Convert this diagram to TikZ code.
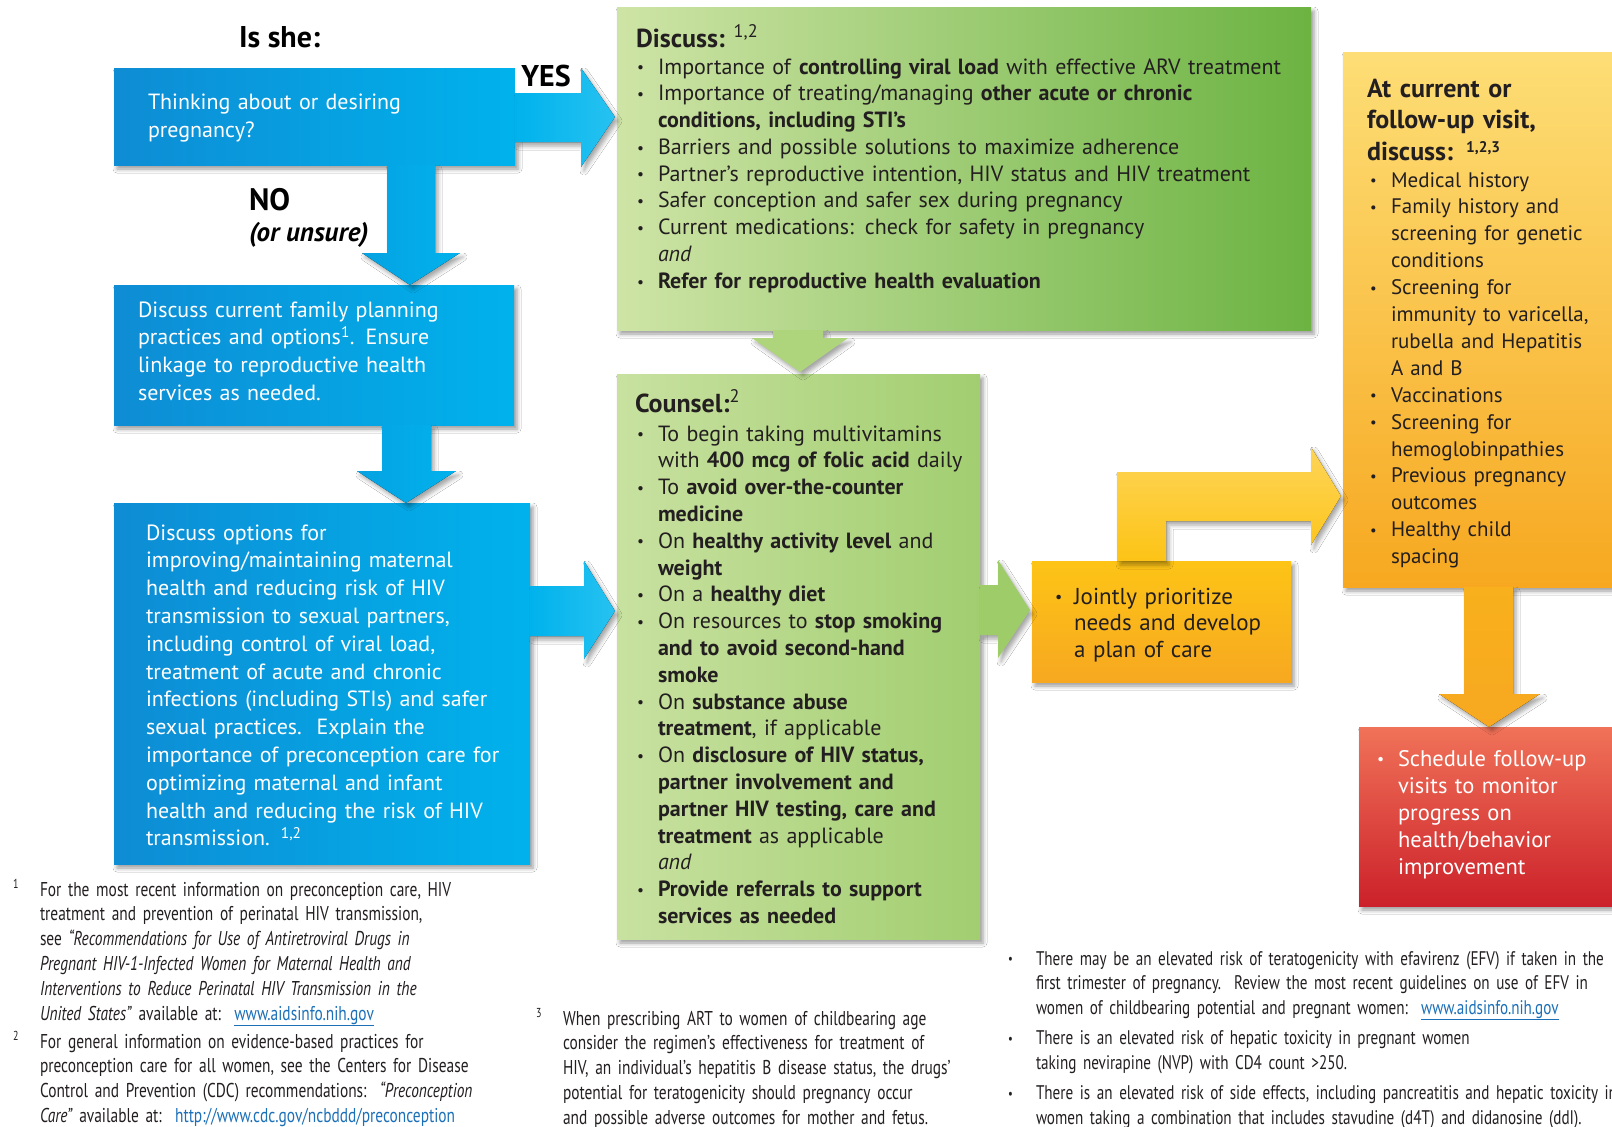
\documentclass[tikz,border=0pt]{standalone}
\usepackage{fontspec}
\setmainfont{PT Sans}
\newfontfamily\condfont[FakeStretch=0.77]{PT Sans}
\usetikzlibrary{calc,shadows.blur}

\definecolor{blueDark}{RGB}{14,140,212}
\definecolor{blueLight}{RGB}{0,178,236}
\definecolor{blueTip}{RGB}{38,194,241}
\definecolor{blueShaft}{RGB}{6,162,226}
\definecolor{greenPale}{RGB}{206,228,166}
\definecolor{greenDeep}{RGB}{108,179,66}
\definecolor{greenSoft}{RGB}{200,225,160}
\definecolor{greenMid}{RGB}{162,206,112}
\definecolor{greenArrow}{RGB}{174,213,124}
\definecolor{greenPoint}{RGB}{158,204,104}
\definecolor{ambTop}{RGB}{253,222,118}
\definecolor{ambMid}{RGB}{253,196,22}
\definecolor{ambBot}{RGB}{247,168,32}
\definecolor{ambLight}{RGB}{253,212,88}
\definecolor{ambDeep}{RGB}{248,176,28}
\definecolor{redTop}{RGB}{240,114,88}
\definecolor{redMid}{RGB}{227,30,36}
\definecolor{redBot}{RGB}{204,33,42}
\definecolor{linkblue}{RGB}{28,112,184}
\definecolor{ink}{RGB}{35,31,32}

\newlength\bw
\newcommand\fs[2]{\fontsize{#1}{#2}\selectfont}
\newcommand\bul{\makebox[\bw][l]{\raisebox{0.06em}{\scalebox{0.7}{\textbullet}}}}
\newcommand\cont{\hspace*{\bw}}
\newcommand\lnk[1]{\textcolor{linkblue}{\underline{#1}}}

\begin{document}
\begin{tikzpicture}[x=1pt,y=-1pt,
  panel/.style={anchor=north west, inner sep=0pt, outer sep=0pt,
    blur shadow={shadow xshift=3pt, shadow yshift=-4pt, shadow blur radius=4pt, shadow opacity=40}},
  blockarrow/.style={blur shadow={shadow xshift=3pt, shadow yshift=-4pt, shadow blur radius=4pt, shadow opacity=35}},
  txt/.style={anchor=base west, inner sep=0pt, outer sep=0pt, align=left, text width=#1},
  label/.style={anchor=base west, inner sep=0pt, outer sep=0pt},
]
\useasboundingbox (0,0) rectangle (1612,1127);
\clip (0,0) rectangle (1612,1127);
\fill[white] (0,0) rectangle (1612,1127);

% ---------- panels ----------
\node[panel, left color=blueDark, right color=blueLight, minimum width=401pt, minimum height=97pt] (ask) at (114,68) {};
\node[panel, left color=blueDark, right color=blueLight, minimum width=400pt, minimum height=140pt] (plan) at (114,285) {};
\node[panel, left color=blueDark, right color=blueLight, minimum width=416pt, minimum height=361pt] (opts) at (114,503) {};
\node[panel, left color=greenPale, right color=greenDeep, minimum width=694pt, minimum height=323pt] (disc) at (617,7) {};
\node[panel, left color=greenSoft, right color=greenMid, minimum width=363pt, minimum height=565pt] (coun) at (617,374) {};
\node[panel, top color=ambMid, bottom color=ambBot, minimum width=259pt, minimum height=121pt] (joint) at (1032,561) {};
\node[panel, top color=ambTop, middle color=ambMid, bottom color=ambBot, minimum width=290pt, minimum height=535pt] (cur) at (1343,52) {};
\node[panel, top color=redTop, middle color=redMid, bottom color=redBot, minimum width=270pt, minimum height=179pt] (sched) at (1359,727) {};

% ---------- block arrows ----------
% YES: ask -> disc
\fill[blockarrow, left color=blueLight, right color=blueTip]
  ($(ask.north east)+(0,25)$) -- ++(66,0) -- ++(0,-25)
  -- ($(disc.north west)+(-2,110)$)
  -- ($(ask.north east)+(66,99)$) -- ++(0,-25) -- ($(ask.north east)+(0,74)$) -- cycle;
% NO: ask -> plan
\fill[blockarrow, left color=blueShaft, right color=blueLight]
  ($(ask.south west)+(273,0)$) -- ++(0,88) -- ++(-25,0)
  -- ($(plan.north west)+(296,0)$)
  -- ($(ask.south west)+(346,88)$) -- ++(-25,0) -- ++(0,-88) -- cycle;
% plan -> opts
\fill[blockarrow, left color=blueShaft, right color=blueLight]
  ($(plan.south west)+(268,0)$) -- ++(0,46) -- ++(-25,0)
  -- ($(opts.north west)+(292,0)$)
  -- ($(plan.south west)+(342,46)$) -- ++(-25,0) -- ++(0,-46) -- cycle;
% opts -> coun
\fill[blockarrow, left color=blueLight, right color=blueTip]
  ($(opts.north east)+(0,83)$) -- ++(54,0) -- ++(0,-25)
  -- ($(coun.north west)+(-2,237)$)
  -- ($(opts.north east)+(54,156)$) -- ++(0,-23) -- ($(opts.north east)+(0,133)$) -- cycle;
% disc -> coun
\fill[blockarrow, fill=greenArrow]
  ($(disc.south west)+(156,0)$) -- ++(0,8) -- ++(-21,0)
  -- ($(coun.north west)+(183,-2)$)
  -- ($(disc.south west)+(231,8)$) -- ++(-25,0) -- ++(0,-8) -- cycle;
% coun -> joint
\fill[blockarrow, fill=greenPoint]
  ($(coun.north east)+(0,211)$) -- ++(18,0) -- ++(0,-25)
  -- ($(joint.north west)+(-2,49)$)
  -- ($(coun.north east)+(18,284)$) -- ++(0,-23) -- ($(coun.north east)+(0,261)$) -- cycle;
% joint -> cur (elbow)
\fill[blockarrow, top color=ambLight, bottom color=ambMid]
  ($(joint.north west)+(85,0)$) -- ($(joint.north west)+(85,-89)$) -- ($(joint.north west)+(279,-89)$)
  -- ($(joint.north west)+(279,-114)$)
  -- ($(cur.north west)+(-2,444)$)
  -- ($(joint.north west)+(279,-16)$) -- ($(joint.north west)+(279,-40)$)
  -- ($(joint.north west)+(134,-40)$) -- ($(joint.north west)+(134,0)$) -- cycle;
% cur -> sched
\fill[blockarrow, top color=ambDeep, bottom color=ambBot]
  ($(cur.south west)+(121,0)$) -- ++(0,107) -- ++(-25,0)
  -- ($(sched.north west)+(130,0)$)
  -- ($(cur.south west)+(197,107)$) -- ++(-27,0) -- ++(0,-107) -- cycle;

% ---------- decision labels ----------
\node[label, font=\bfseries\fs{30}{34}] (isshe) at (239,47) {Is she:};
\node[anchor=north west, fill=white, inner sep=0pt, minimum width=65pt, minimum height=30pt] (yesbg) at (515,63) {};
\node[anchor=base, inner sep=0pt, font=\bfseries\fs{30}{34}] (yes) at (546,86) {YES};
\node[label, font=\bfseries\fs{31}{34}] (no) at (249,210) {NO};
\node[label, font=\bfseries\itshape\fs{27}{30}] (unsure) at (249,241) {(or unsure)};

% ---------- blue texts ----------
\node[txt=390pt, text=white, font=\fs{22}{28}] (askt) at (148,109)
  {Thinking about or desiring\\pregnancy?};
\node[txt=390pt, text=white, font=\fs{22}{27.8}] (plant) at (138,317)
  {Discuss current family planning\\practices and options\textsuperscript{1}. Ensure\\linkage to reproductive health\\services as needed.};
\node[txt=410pt, text=white, font=\fs{22}{27.8}] (optst) at (146,540)
  {Discuss options for\\
   improving/maintaining maternal\\
   health and reducing risk of HIV\\
   transmission to sexual partners,\\
   including control of viral load,\\
   treatment of acute and chronic\\
   infections (including STIs) and safer\\
   sexual practices.\ \ Explain the\\
   importance of preconception care for\\
   optimizing maternal and infant\\
   health and reducing the risk of HIV\\
   transmission. \textsuperscript{1,2}};

% ---------- green texts ----------
\node[label, text=ink, font=\bfseries\fs{26}{30}] (disch) at (636,47) {Discuss: \textsuperscript{\mdseries 1,2}};
\node[txt=690pt, text=ink, font=\fs{22}{26.8}] (disct) at (637,74)
  {\setlength\bw{21pt}%
   \bul Importance of \textbf{controlling viral load} with effective ARV treatment\\
   \bul Importance of treating/managing \textbf{other acute or chronic}\\
   \cont\textbf{conditions, including STI’s}\\
   \bul Barriers and possible solutions to maximize adherence\\
   \bul Partner's reproductive intention, HIV status and HIV treatment\\
   \bul Safer conception and safer sex during pregnancy\\
   \bul Current medications: check for safety in pregnancy\\
   \cont\textit{and}\\
   \bul\textbf{Refer for reproductive health evaluation}};

\node[label, text=ink, font=\bfseries\fs{26}{30}] (counh) at (635,412) {Counsel:\textsuperscript{\mdseries 2}};
\node[txt=360pt, text=ink, font=\fs{22}{26.8}] (count) at (637,441)
  {\setlength\bw{21pt}%
   \bul To begin taking multivitamins\\
   \cont with \textbf{400 mcg of folic acid} daily\\
   \bul To \textbf{avoid over-the-counter}\\
   \cont\textbf{medicine}\\
   \bul On \textbf{healthy activity level} and\\
   \cont\textbf{weight}\\
   \bul On a \textbf{healthy diet}\\
   \bul On resources to \textbf{stop smoking}\\
   \cont\textbf{and to avoid second-hand}\\
   \cont\textbf{smoke}\\
   \bul On \textbf{substance abuse}\\
   \cont\textbf{treatment}, if applicable\\
   \bul On \textbf{disclosure of HIV status,}\\
   \cont\textbf{partner involvement and}\\
   \cont\textbf{partner HIV testing, care and}\\
   \cont\textbf{treatment} as applicable\\
   \cont\textit{and}\\
   \bul\textbf{Provide referrals to support}\\
   \cont\textbf{services as needed}};

% ---------- amber / red texts ----------
\node[txt=250pt, text=ink, font=\fs{23}{26.5}] (jointt) at (1055,604)
  {\setlength\bw{19pt}%
   \bul Jointly prioritize\\
   \cont needs and develop\\
   \cont a plan of care};

\node[txt=260pt, text=ink, font=\bfseries\fs{26}{31.5}] (curh) at (1367,97)
  {At current or\\follow-up visit,\\discuss: {\fs{22}{26}\textsuperscript{1,2,3}}};
\node[txt=260pt, text=ink, font=\fs{21}{26.9}] (curt) at (1370,187)
  {\setlength\bw{21pt}%
   \bul Medical history\\
   \bul Family history and\\
   \cont screening for genetic\\
   \cont conditions\\
   \bul Screening for\\
   \cont immunity to varicella,\\
   \cont rubella and Hepatitis\\
   \cont A and B\\
   \bul Vaccinations\\
   \bul Screening for\\
   \cont hemoglobinpathies\\
   \bul Previous pregnancy\\
   \cont outcomes\\
   \bul Healthy child\\
   \cont spacing};

\node[txt=250pt, text=white, font=\fs{22.5}{27.2}] (schedt) at (1377,766)
  {\setlength\bw{21pt}%
   \bul Schedule follow-up\\
   \cont visits to monitor\\
   \cont progress on\\
   \cont health/behavior\\
   \cont improvement};

% ---------- footnotes ----------
\node[label, text=ink, font=\condfont\fs{13}{15}] (m1) at (13,888) {1};
\node[txt=540pt, text=ink, font=\condfont\fs{20}{24.8}] (fn1) at (40,896)
  {For the most recent information on preconception care, HIV\\
   treatment and prevention of perinatal HIV transmission,\\
   see \textit{“Recommendations for Use of Antiretroviral Drugs in}\\
   \textit{Pregnant HIV-1-Infected Women for Maternal Health and}\\
   \textit{Interventions to Reduce Perinatal HIV Transmission in the}\\
   \textit{United States”} available at:\ \ \lnk{www.aidsinfo.nih.gov}};
\node[label, text=ink, font=\condfont\fs{13}{15}] (m2) at (13,1040) {2};
\node[txt=540pt, text=ink, font=\condfont\fs{20}{24.8}] (fn2) at (40,1048)
  {For general information on evidence-based practices for\\
   preconception care for all women, see the Centers for Disease\\
   Control and Prevention (CDC) recommendations:\ \ \textit{“Preconception}\\
   \textit{Care”} available at:\ \ \textcolor{linkblue}{http://www.cdc.gov/ncbddd/preconception}};
\node[label, text=ink, font=\condfont\fs{13}{15}] (m3) at (536,1017) {3};
\node[txt=440pt, text=ink, font=\condfont\fs{20}{24.8}] (fn3) at (563,1025)
  {When prescribing ART to women of childbearing age\\
   consider the regimen’s effectiveness for treatment of\\
   HIV, an individual’s hepatitis B disease status, the drugs’\\
   potential for teratogenicity should pregnancy occur\\
   and possible adverse outcomes for mother and fetus.};
\node[txt=720pt, text=ink, font=\condfont\fs{19.7}{24.5}] (fn4) at (1008,965)
  {\setlength\bw{28pt}%
   \bul There may be an elevated risk of teratogenicity with efavirenz (EFV) if taken in the\\
   \cont first trimester of pregnancy.\ \ Review the most recent guidelines on use of EFV in\\
   \cont women of childbearing potential and pregnant women:\ \ \lnk{www.aidsinfo.nih.gov}\\[6pt]
   \bul There is an elevated risk of hepatic toxicity in pregnant women\\
   \cont taking nevirapine (NVP) with CD4 count >250.\\[6pt]
   \bul There is an elevated risk of side effects, including pancreatitis and hepatic toxicity in\\
   \cont women taking a combination that includes stavudine (d4T) and didanosine (ddI).};
\end{tikzpicture}
\end{document}
